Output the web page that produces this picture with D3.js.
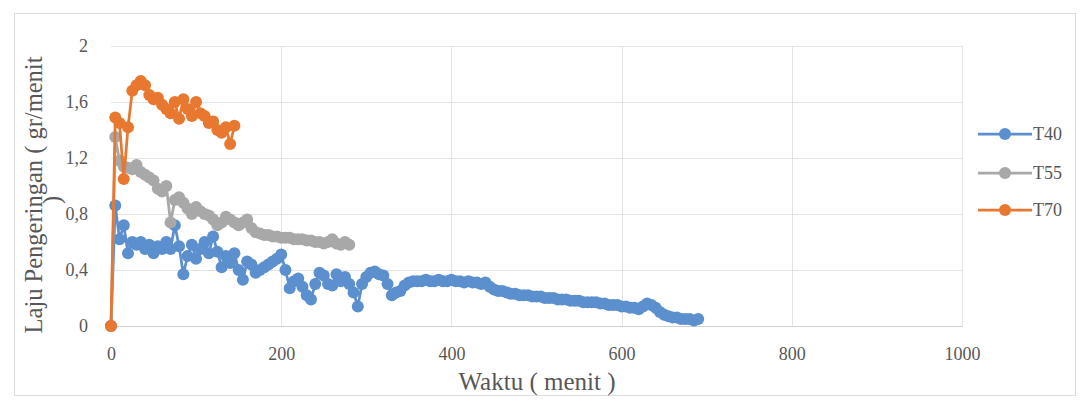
<!DOCTYPE html>
<html>
<head>
<meta charset="utf-8">
<script src="https://cdn.jsdelivr.net/npm/d3@7"></script>
<style>
  html, body { margin: 0; padding: 0; background: #fff; }
  svg { display: block; }
</style>
</head>
<body>
<svg id="chart" width="1081" height="402"></svg>
<script>
// Drying rate (gr/menit) against time (menit) for three drying temperatures.
const seriesNames = ["T40", "T55", "T70"];
const seriesColors = ["#5b8fce", "#a8a8a8", "#e8782f"];

const t40Time = [0,5,10,15,20,25,30,35,40,45,50,55,60,65,70,75,80,85,90,95,
  100,105,110,115,120,125,130,135,140,145,150,155,160,165,170,175,180,185,190,195,
  200,205,210,215,220,225,230,235,240,245,250,255,260,265,270,275,280,285,290,295,
  300,305,310,315,320,325,330,335,340,345,350,355,360,365,370,375,380,385,390,395,
  400,405,410,415,420,425,430,435,440,445,450,455,460,465,470,475,480,485,490,495,
  500,505,510,515,520,525,530,535,540,545,550,555,560,565,570,575,580,585,590,595,
  600,605,610,615,620,625,630,635,640,645,650,655,660,665,670,675,680,685,690];
const t40Rate = [0,0.86,0.62,0.72,0.52,0.60,0.58,0.60,0.55,0.58,0.52,0.57,0.55,0.60,0.55,0.72,0.57,0.37,0.50,0.58,
  0.48,0.55,0.60,0.52,0.64,0.53,0.42,0.50,0.45,0.52,0.40,0.33,0.46,0.44,0.38,0.40,0.42,0.44,0.46,0.48,
  0.51,0.40,0.27,0.32,0.34,0.28,0.22,0.19,0.30,0.38,0.36,0.30,0.29,0.37,0.32,0.35,0.30,0.24,0.14,0.30,
  0.35,0.38,0.39,0.37,0.36,0.30,0.22,0.24,0.25,0.29,0.31,0.32,0.32,0.32,0.33,0.32,0.32,0.33,0.32,0.32,
  0.33,0.32,0.32,0.31,0.32,0.31,0.31,0.30,0.31,0.28,0.26,0.25,0.25,0.24,0.23,0.23,0.22,0.22,0.22,0.21,
  0.21,0.21,0.20,0.20,0.20,0.19,0.19,0.19,0.18,0.18,0.18,0.17,0.17,0.17,0.17,0.16,0.16,0.15,0.15,0.15,
  0.14,0.14,0.13,0.13,0.12,0.14,0.16,0.15,0.13,0.10,0.08,0.07,0.06,0.06,0.05,0.05,0.05,0.04,0.05];

const t55Time = [0,5,10,15,20,25,30,35,40,45,50,55,60,65,70,75,80,85,90,95,
  100,105,110,115,120,125,130,135,140,145,150,155,160,165,170,175,180,185,190,195,
  200,205,210,215,220,225,230,235,240,245,250,255,260,265,270,275,280];
const t55Rate = [0,1.35,1.18,1.14,1.13,1.12,1.15,1.10,1.08,1.06,1.04,0.98,0.96,1.00,0.74,0.90,0.92,0.88,0.84,0.80,
  0.85,0.82,0.80,0.79,0.76,0.72,0.74,0.78,0.76,0.74,0.72,0.74,0.76,0.70,0.67,0.66,0.65,0.65,0.64,0.64,
  0.63,0.63,0.63,0.62,0.62,0.62,0.61,0.61,0.60,0.60,0.59,0.60,0.62,0.59,0.58,0.60,0.58];

const t70Time = [0,5,10,15,20,25,30,35,40,45,50,55,60,65,70,75,80,85,90,95,
  100,105,110,115,120,125,130,135,140,145];
const t70Rate = [0,1.49,1.45,1.05,1.42,1.68,1.72,1.75,1.72,1.65,1.62,1.63,1.58,1.55,1.52,1.60,1.48,1.62,1.55,1.50,
  1.60,1.52,1.50,1.45,1.46,1.40,1.38,1.42,1.30,1.43];

const xTicks = [0, 200, 400, 600, 800, 1000];
const xTickLabels = ["0", "200", "400", "600", "800", "1000"];
const yTicks = [0, 0.4, 0.8, 1.2, 1.6, 2];
const yTickLabels = ["0", "0,4", "0,8", "1,2", "1,6", "2"];

const FONT = '"Liberation Serif"';
const TEXT_COLOR = "#575757";

const series = [
  { name: seriesNames[0], color: seriesColors[0], pts: t40Time.map((t, i) => [t, t40Rate[i]]) },
  { name: seriesNames[1], color: seriesColors[1], pts: t55Time.map((t, i) => [t, t55Rate[i]]) },
  { name: seriesNames[2], color: seriesColors[2], pts: t70Time.map((t, i) => [t, t70Rate[i]]) }
];

const svg = d3.select("#chart");
const plot = { left: 111, right: 962, top: 46, bottom: 326 };

const x = d3.scaleLinear().domain([0, 1000]).range([plot.left, plot.right]);
const y = d3.scaleLinear().domain([0, 2]).range([plot.bottom, plot.top]);

// outer chart frame
svg.append("rect")
  .attr("x", 14.5).attr("y", 13.5).attr("width", 1061).attr("height", 382)
  .attr("fill", "#fff").attr("stroke", "#dcdcdc").attr("stroke-width", 1);

// gridlines
const grid = svg.append("g");
grid.selectAll("line.h").data(yTicks.slice(1)).join("line")
  .attr("x1", plot.left).attr("x2", plot.right)
  .attr("y1", d => Math.round(y(d)) + 0.5).attr("y2", d => Math.round(y(d)) + 0.5)
  .attr("stroke", "#e3e3e3").attr("stroke-width", 1);
grid.selectAll("line.v").data(xTicks.slice(1)).join("line")
  .attr("y1", plot.top).attr("y2", plot.bottom)
  .attr("x1", d => Math.round(x(d)) + 0.5).attr("x2", d => Math.round(x(d)) + 0.5)
  .attr("stroke", "#e3e3e3").attr("stroke-width", 1);

// axes
const xAxis = d3.axisBottom(x).tickValues(xTicks).tickSize(0).tickPadding(21)
  .tickFormat((d, i) => xTickLabels[i]);
const gx = svg.append("g").attr("transform", `translate(0,${plot.bottom})`).call(xAxis)
  .attr("font-family", null);
gx.select(".domain").attr("stroke", "#d0d0d0");
gx.selectAll("text").style("font-size", "18px").style("font-family", FONT).attr("fill", TEXT_COLOR);

const yAxis = d3.axisLeft(y).tickValues(yTicks).tickSize(0).tickPadding(23)
  .tickFormat((d, i) => yTickLabels[i]);
const gy = svg.append("g").attr("transform", `translate(${plot.left},0)`).call(yAxis)
  .attr("font-family", null);
gy.select(".domain").remove();
gy.selectAll("text").style("font-size", "18px").style("font-family", FONT).attr("fill", TEXT_COLOR);

// axis titles
svg.append("text")
  .attr("x", 537).attr("y", 390)
  .attr("text-anchor", "middle")
  .style("font-size", "25px").style("font-family", FONT).attr("fill", TEXT_COLOR)
  .text("Waktu ( menit )");

const yTitle = svg.append("text")
  .attr("transform", "translate(42,195) rotate(-90)")
  .attr("text-anchor", "middle")
  .style("font-size", "24.5px").style("font-family", FONT).attr("fill", TEXT_COLOR);
yTitle.append("tspan").attr("x", 0).attr("dy", 0).text("Laju Pengeringan ( gr/menit");
yTitle.append("tspan").attr("x", -5).attr("dy", 18).text(")");

// series lines and markers
const line = d3.line().x(d => x(d[0])).y(d => y(d[1]));
const marks = svg.append("g");
series.forEach(s => {
  const g = marks.append("g");
  g.append("path").datum(s.pts)
    .attr("d", line).attr("fill", "none")
    .attr("stroke", s.color).attr("stroke-width", 2.75).attr("stroke-linejoin", "round");
  g.selectAll("circle").data(s.pts).join("circle")
    .attr("cx", d => x(d[0])).attr("cy", d => y(d[1])).attr("r", 6)
    .attr("fill", s.color);
});

// legend
const legend = svg.append("g");
const legendY = [134, 173, 210];
series.forEach((s, i) => {
  const g = legend.append("g").attr("transform", `translate(0,${legendY[i]})`);
  g.append("line").attr("x1", 978).attr("x2", 1032).attr("y1", 0).attr("y2", 0)
    .attr("stroke", s.color).attr("stroke-width", 2.75);
  g.append("circle").attr("cx", 1005).attr("cy", 0).attr("r", 6).attr("fill", s.color);
  g.append("text").attr("x", 1033).attr("y", 6)
    .style("font-size", "18px").style("font-family", FONT).attr("fill", TEXT_COLOR)
    .text(s.name);
});
</script>
</body>
</html>
